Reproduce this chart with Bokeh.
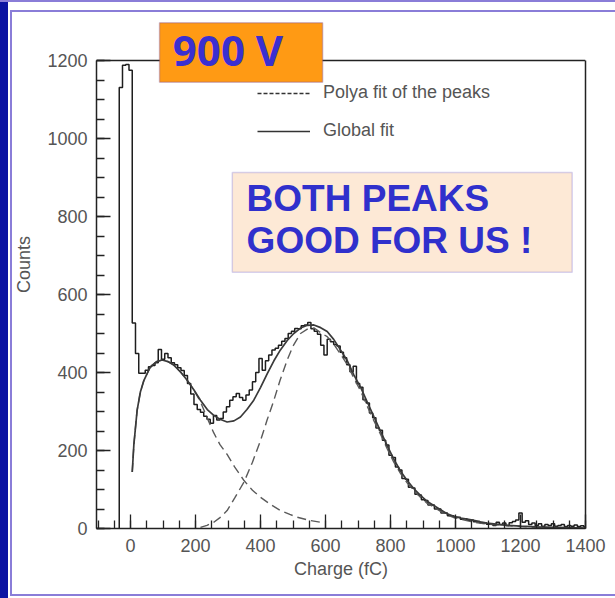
import numpy as np
from bokeh.plotting import figure
from bokeh.models import (Range1d, SingleIntervalTicker, FixedTicker, BoxAnnotation, Label,
                          Legend, LegendItem, LinearAxis, Span)
from bokeh.embed import file_html
from bokeh.resources import INLINE

# ---------------- data ----------------
bin_start = -35
bin_width = 10
counts = [
    1131, 1188, 1190, 1175, 527, 449, 398, 398, 406, 415,
    418, 425, 459, 434, 449, 438, 425, 420, 412, 405,
    392, 372, 345, 318, 305, 298, 288, 280, 270, 290,
    278, 282, 299, 312, 329, 338, 346, 336, 329, 342,
    355, 376, 400, 436, 406, 430, 445, 458, 462, 470,
    480, 487, 500, 506, 513, 512, 520, 522, 528, 512,
    506, 498, 470, 445, 485, 479, 472, 468, 452, 438,
    420, 402, 416, 372, 362, 330, 322, 296, 284, 258,
    252, 226, 214, 188, 182, 158, 150, 128, 126, 106,
    104, 88, 86, 74, 72, 60, 60, 50, 50, 40,
    40, 33, 33, 28, 29, 24, 25, 21, 22, 17,
    18, 14, 15, 11, 12, 8, 16, 10, 14, 8,
    15, 18, 22, 40, 16, 20, 10, 14, 8, 12,
    6, 10, 8, 12, 6, 8, 10, 5, 8, 6,
    9, 5, 7, 4,
]

polya1_x = [5, 10, 20, 30, 41, 61, 80, 97, 115, 133, 155, 174, 195, 215, 235,
            256, 275, 297, 320, 349, 375, 400, 430, 461, 490, 513, 550, 585]
polya1_y = [145, 215, 303, 350, 380, 415, 428, 432, 428, 419, 400, 380, 355, 325, 285,
            245, 215, 190, 158, 123, 98, 80, 62, 46, 36, 29, 21, 16]

polya2_x = [215, 235, 256, 275, 297, 320, 349, 375, 400, 420, 441, 460, 482, 500,
            523, 545, 565, 585, 605, 625, 646, 667, 687, 708, 728, 749, 769, 790,
            810, 830, 851, 872, 892, 912, 933, 954, 974, 995, 1015, 1050, 1100,
            1200, 1300, 1400]
polya2_y = [3, 8, 16, 28, 46, 78, 119, 170, 226, 278, 329, 380, 432, 468,
            500, 512, 514, 502, 492, 473, 447, 420, 386, 352, 314, 276, 242, 204,
            170, 142, 117, 97, 80, 65, 55, 44, 35, 28, 24, 17, 11,
            5, 2, 1]

global_x = [5, 10, 20, 30, 41, 61, 80, 97, 115, 133, 155, 174, 195, 215, 236,
            256, 275, 297, 318, 338, 358, 379, 400, 421, 441, 461, 482, 502, 523,
            544, 564, 585, 605, 625, 646, 667, 687, 708, 728, 749, 769, 790, 810,
            830, 851, 872, 892, 912, 933, 954, 974, 995, 1015, 1036, 1056, 1076,
            1097, 1118, 1138, 1160, 1200, 1250, 1300, 1350, 1400]
global_y = [145, 215, 303, 350, 380, 415, 428, 432, 428, 419, 400, 380, 355, 329, 305,
            290, 280, 273, 276, 286, 305, 329, 362, 398, 430, 458, 482, 500, 514,
            521, 522, 515, 505, 485, 458, 430, 394, 362, 325, 286, 250, 212, 178,
            148, 123, 102, 85, 70, 59, 48, 38, 31, 27, 24, 21, 17,
            14, 12, 10, 8, 6, 4, 3, 2, 1]

x_label = "Charge (fC)"
y_label = "Counts"
legend_labels = ["Polya fit of the peaks", "Global fit"]
voltage_text = "900 V"
comment_lines = ["BOTH PEAKS", "GOOD FOR US !"]
x_min, x_max = -105, 1400
y_min, y_max = 0, 1200

# ---------------- figure ----------------
FONT = "Liberation Sans"
TXT = "#555555"
INK = "#222222"
LILAC = "#8a7dd8"
PX_PER_COUNT = 468 / (y_max - y_min)
TOP_ROOM = 60  # pixels of frame above the 1200 level (for the tag box)

p = figure(width=615, height=598, output_backend="svg", toolbar_location=None,
           x_range=Range1d(x_min, x_max),
           y_range=Range1d(y_min, y_max + TOP_ROOM / PX_PER_COUNT),
           min_border_left=96, min_border_right=30, min_border_top=0,
           min_border_bottom=70, title=None)
# transparent canvas: the slide decoration comes from the page element behind it
p.background_fill_alpha = 0
p.border_fill_alpha = 0
p.styles = {
    "background-color": "white",
    "background-image": ", ".join([f"linear-gradient({LILAC}, {LILAC})"] * 4
                                  + ["linear-gradient(#0b13a2, #0b13a2)"]),
    "background-size": "100% 2px, 100% 2px, 2px 585px, 100% 2px, 8px 100%",
    "background-position": "0 0, 10px 10px, 10px 10px, 10px 594px, 0 0",
    "background-repeat": "no-repeat",
}
p.outline_line_color = None
p.xgrid.visible = False
p.ygrid.visible = False

right_axis = LinearAxis(ticker=FixedTicker(ticks=[]), bounds=(y_min, y_max))
p.add_layout(right_axis, "right")

for ax in (p.xaxis[0], p.yaxis[0], right_axis):
    ax.axis_line_color = INK
    ax.axis_line_width = 1.5
    ax.major_tick_line_color = INK
    ax.minor_tick_line_color = INK
    ax.major_tick_line_width = 1.3
    ax.minor_tick_line_width = 1.3
    ax.major_tick_in = 14
    ax.major_tick_out = 0
    ax.minor_tick_in = 8
    ax.minor_tick_out = 0
    ax.major_label_text_font = FONT
    ax.major_label_text_font_size = "18px"
    ax.major_label_text_color = TXT
    ax.axis_label_text_font = FONT
    ax.axis_label_text_font_size = "18px"
    ax.axis_label_text_font_style = "normal"
    ax.axis_label_text_color = TXT

p.xaxis[0].ticker = SingleIntervalTicker(interval=200, num_minor_ticks=4)
p.yaxis[0].ticker = SingleIntervalTicker(interval=200, num_minor_ticks=4)
p.yaxis[0].bounds = (y_min, y_max)
p.xaxis[0].axis_label = x_label
p.yaxis[0].axis_label = y_label
p.xaxis[0].major_label_standoff = 10
p.xaxis[0].axis_label_standoff = 4
p.yaxis[0].major_label_standoff = 9
p.yaxis[0].axis_label_standoff = 10

# top side of the box
p.add_layout(Span(location=y_max, dimension="width", line_color=INK, line_width=1.5))

# histogram as a step outline
n = len(counts)
edges = bin_start + bin_width * np.arange(n + 1)
hx = np.r_[edges[0], edges]
hy = np.r_[0, counts, counts[-1]]
p.step(hx, hy, mode="after", line_color="#1e1e1e", line_width=1.5)

# fits
p.line(polya1_x, polya1_y, line_color="#5a5a5a", line_width=1.4, line_dash="9 5")
p.line(polya2_x, polya2_y, line_color="#5a5a5a", line_width=1.4, line_dash="9 5")
p.line(global_x, global_y, line_color="#3a3a3a", line_width=1.7)

# legend samples (no visible data)
leg_dash = p.line(x=[np.nan], y=[np.nan], line_color="#333333", line_width=1.5, line_dash="4 2")
leg_solid = p.line(x=[np.nan], y=[np.nan], line_color="#333333", line_width=1.5)
legend = Legend(items=[LegendItem(label=legend_labels[0], renderers=[leg_dash]),
                       LegendItem(label=legend_labels[1], renderers=[leg_solid])],
                location=(161, 387), orientation="vertical",
                glyph_width=53, glyph_height=20, label_height=20, spacing=17,
                label_standoff=13, padding=0, margin=0,
                border_line_alpha=0, background_fill_alpha=0,
                label_text_font=FONT, label_text_font_size="18px",
                label_text_color=TXT)
p.add_layout(legend)

# voltage tag
p.add_layout(BoxAnnotation(left=89, right=591, top=1297, bottom=1144,
                           fill_color="#ff9a14", fill_alpha=1, line_color="#6a3aa0",
                           line_width=1.5, level="overlay"))
p.add_layout(Label(x=130, y=1229, text=voltage_text, text_font="Open Sans",
                   text_font_size="42px", text_font_style="bold", text_color="#3a2fd0",
                   text_baseline="alphabetic", text_align="left", level="overlay"))

# comment box
p.add_layout(BoxAnnotation(left=313, right=1359, top=913, bottom=657,
                           fill_color="#fde9d6", fill_alpha=1, line_color="#7c6fd8",
                           line_width=1.5, level="overlay"))
for txt, yb in zip(comment_lines, (846, 739)):
    p.add_layout(Label(x=357, y=yb, text=txt, text_font=FONT,
                       text_font_size="37px", text_font_style="bold",
                       text_color="#3030cc", text_baseline="alphabetic",
                       text_align="left", level="overlay"))

open("out.html", "w").write(file_html(p, INLINE))
